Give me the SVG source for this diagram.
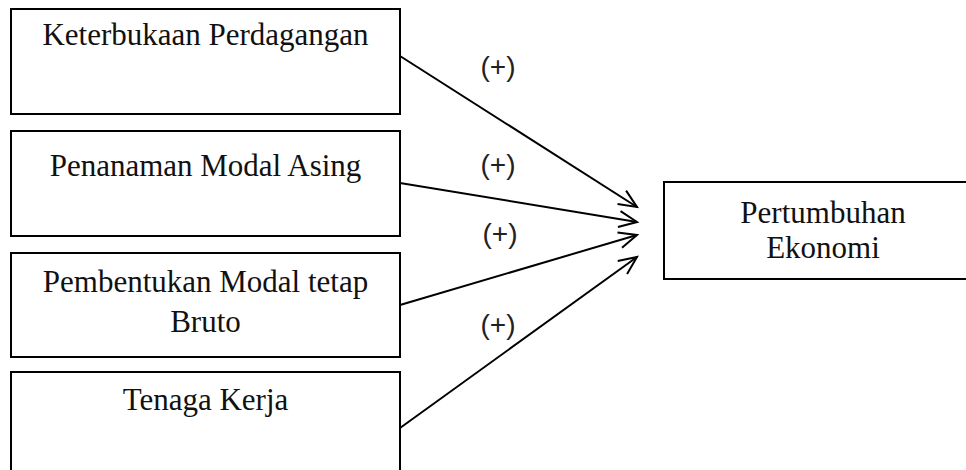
<svg xmlns="http://www.w3.org/2000/svg" width="966" height="470" viewBox="0 0 966 470">
<style>
.box{fill:#fff;stroke:#000;stroke-width:2}
.t{font-family:"Liberation Serif",serif;font-size:31px;fill:#111;text-anchor:middle}
.p{font-family:"Liberation Sans",sans-serif;font-size:28px;fill:#222;text-anchor:middle}
.c{stroke:#000;stroke-width:2;fill:none;marker-end:url(#ah)}
</style>
<defs>
<marker id="ah" markerUnits="userSpaceOnUse" markerWidth="30" markerHeight="30" viewBox="-25 -15 30 30" refX="0" refY="0" orient="auto">
<path d="M-18,-8 L0,0 L-18,8" fill="none" stroke="#000" stroke-width="2"/>
</marker>
</defs>
<rect width="966" height="470" fill="#fff"/>
<g id="n1"><rect class="box" x="11" y="9" width="389" height="105"/><text class="t" x="205.5" y="45">Keterbukaan Perdagangan</text></g>
<g id="n2"><rect class="box" x="11" y="131" width="389" height="105"/><text class="t" x="205.5" y="176">Penanaman Modal Asing</text></g>
<g id="n3"><rect class="box" x="11" y="253" width="389" height="104"/><text class="t" x="205.5" y="292">Pembentukan Modal tetap</text><text class="t" x="205.5" y="332">Bruto</text></g>
<g id="n4"><rect class="box" x="11" y="372" width="389" height="110"/><text class="t" x="205.5" y="410">Tenaga Kerja</text></g>
<g id="n5"><rect class="box" x="664" y="182" width="320" height="97"/><text class="t" x="823" y="223">Pertumbuhan</text><text class="t" x="823" y="258">Ekonomi</text></g>
<g id="connectors">
<line class="c" x1="400" y1="56" x2="637" y2="207"/>
<line class="c" x1="400" y1="183" x2="637" y2="222"/>
<line class="c" x1="400" y1="305" x2="637" y2="235"/>
<line class="c" x1="400" y1="428" x2="637" y2="257"/>
<text class="p" x="498" y="76">(+)</text>
<text class="p" x="498" y="174">(+)</text>
<text class="p" x="500" y="243">(+)</text>
<text class="p" x="498" y="334">(+)</text>
</g>
</svg>
